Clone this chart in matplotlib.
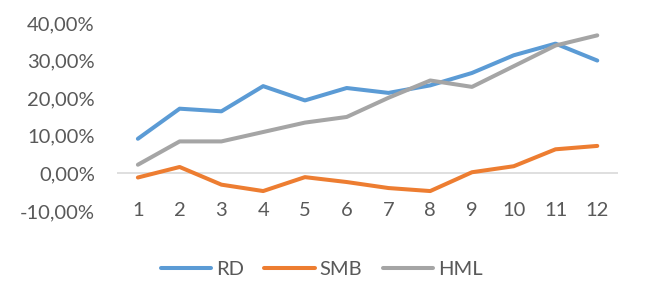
import matplotlib
matplotlib.use('Agg')
import matplotlib.pyplot as plt
from matplotlib.ticker import FuncFormatter

# monthly values, in percent
months = [1, 2, 3, 4, 5, 6, 7, 8, 9, 10, 11, 12]
rd = [9.2, 17.2, 16.5, 23.2, 19.4, 22.7, 21.4, 23.4, 26.7, 31.4, 34.5, 30.0]
smb = [-1.1, 1.7, -3.0, -4.7, -1.0, -2.3, -3.9, -4.7, 0.3, 1.9, 6.4, 7.3]
hml = [2.3, 8.5, 8.5, 11.0, 13.5, 15.0, 20.1, 24.7, 23.0, 28.5, 34.0, 36.7]
yticks = [-10, 0, 10, 20, 30, 40]

txt = '#595959'
fs = 14.5
plt.rcParams['font.family'] = ['Lato', 'DejaVu Sans']

fig = plt.figure(figsize=(6.5, 2.98), dpi=100)
ax = fig.add_axes([0.18, 0.292, 0.771, 0.631])

ax.plot(months, rd, color='#5B9BD5', lw=2.9, label='RD', solid_capstyle='round')
ax.plot(months, smb, color='#ED7D31', lw=2.9, label='SMB', solid_capstyle='round')
ax.plot(months, hml, color='#A5A5A5', lw=2.9, label='HML', solid_capstyle='round')

ax.axhline(0, color='#D9D9D9', lw=1.2, zorder=0)
ax.set_xlim(0.5, 12.5)
ax.set_ylim(-10, 40)
ax.set_yticks(yticks)
ax.yaxis.set_major_formatter(FuncFormatter(lambda v, p: ('%.2f%%' % v).replace('.', ',')))
ax.tick_params(axis='y', length=0, labelsize=fs, labelcolor=txt, pad=16)
ax.set_xticks([])
for m in months:
    ax.text(m, 0, str(m), transform=ax.get_xaxis_transform(), ha='center', va='center',
            fontsize=fs, color=txt)
for s in ax.spines.values():
    s.set_visible(False)

fig.legend(loc='center', bbox_to_anchor=(0.495, 0.097), ncol=3, frameon=False,
           fontsize=fs, labelcolor=txt, handlelength=2.5, handletextpad=0.25, columnspacing=1.0)

fig.savefig('out.png', dpi=100)
